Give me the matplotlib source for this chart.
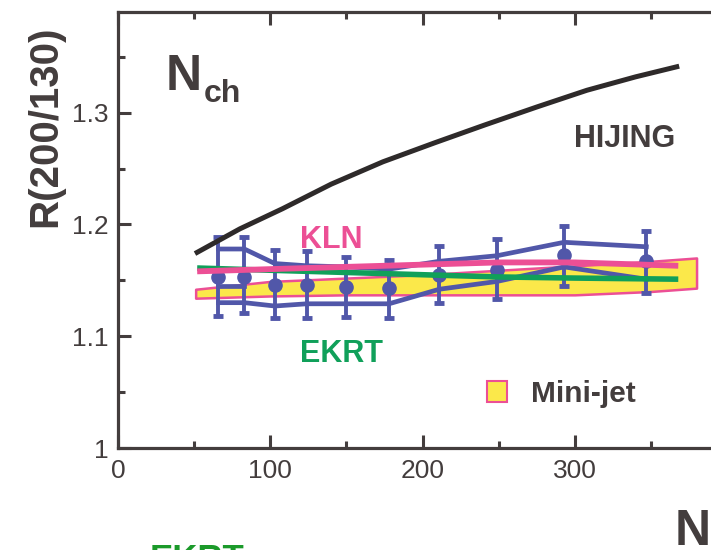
import numpy as np
import matplotlib.pyplot as plt
from matplotlib.patches import Patch
from matplotlib.ticker import MultipleLocator
from matplotlib import font_manager

# data
n_data = [66, 83, 103, 124, 150, 178, 211, 249, 293, 347]
r_data = [1.153, 1.153, 1.146, 1.146, 1.144, 1.143, 1.155, 1.159, 1.173, 1.167]
r_stat_hi = [1.189, 1.189, 1.177, 1.176, 1.171, 1.168, 1.181, 1.187, 1.199, 1.194]
r_stat_lo = [1.118, 1.121, 1.116, 1.116, 1.117, 1.116, 1.130, 1.133, 1.145, 1.139]
r_sys_hi = [1.178, 1.178, 1.165, 1.163, 1.162, 1.160, 1.167, 1.172, 1.184, 1.180]
r_sys_lo = [1.130, 1.130, 1.127, 1.129, 1.129, 1.129, 1.142, 1.149, 1.162, 1.151]
n_extra = [66, 83]
r_extra = [1.145, 1.145]

n_hijing = [52, 80, 108, 140, 174, 208, 241, 275, 308, 340, 367]
r_hijing = [1.175, 1.196, 1.214, 1.236, 1.256, 1.273, 1.289, 1.305, 1.320, 1.332, 1.341]

n_kln = [52, 100, 150, 200, 250, 300, 368]
r_kln = [1.158, 1.160, 1.162, 1.164, 1.166, 1.166, 1.163]

n_ekrt = [52, 100, 150, 200, 250, 300, 368]
r_ekrt = [1.161, 1.159, 1.157, 1.155, 1.153, 1.152, 1.151]

n_mj = [51, 100, 150, 200, 250, 300, 350, 380]
r_mj_lo = [1.134, 1.136, 1.137, 1.137, 1.137, 1.137, 1.140, 1.143]
r_mj_hi = [1.142, 1.149, 1.152, 1.155, 1.159, 1.163, 1.167, 1.170]

names = {f.name for f in font_manager.fontManager.ttflist}
font = 'Liberation Sans'
narrow = 'Liberation Sans Narrow' if 'Liberation Sans Narrow' in names else font
plt.rcParams['font.family'] = font

gray = '#433d3d'
blue = '#5157a9'
pink = '#ec4f95'
green = '#10a05a'
yellow = '#fbe84a'

fig = plt.figure(figsize=(7.11, 5.5), dpi=100)
ax = fig.add_axes([118/711, 102/550, 609/711, 436/550])

ax.fill_between(n_mj, r_mj_lo, r_mj_hi, facecolor=yellow, edgecolor=pink, linewidth=1.8, zorder=1)

yerr = [np.array(r_data) - np.array(r_stat_lo), np.array(r_stat_hi) - np.array(r_data)]
ax.errorbar(n_data, r_data, yerr=yerr, fmt='o', color=blue, ms=9.5, elinewidth=2.8,
            capsize=3.5, capthick=3.5, zorder=3)
ax.plot(n_data, r_sys_hi, color=blue, lw=3.4, zorder=2)
ax.plot(n_data, r_sys_lo, color=blue, lw=3.4, zorder=2)
ax.plot(n_extra, r_extra, color=blue, lw=3.4, zorder=2)

ax.plot(n_ekrt, r_ekrt, color=green, lw=4, solid_capstyle='butt', zorder=4)
ax.plot(n_kln, r_kln, color=pink, lw=4.2, solid_capstyle='butt', zorder=5)
ax.plot(n_hijing, r_hijing, color='#2e2a2a', lw=3.6, zorder=6)

ax.set_xlim(0, 400)
ax.set_ylim(1.0, 1.39)
ax.xaxis.set_major_locator(MultipleLocator(100))
ax.xaxis.set_minor_locator(MultipleLocator(50))
ax.yaxis.set_major_locator(MultipleLocator(0.1))
ax.yaxis.set_minor_locator(MultipleLocator(0.05))
ax.set_yticks([1.0, 1.1, 1.2, 1.3])
ax.set_yticklabels(['1', '1.1', '1.2', '1.3'])
ax.set_xticks([0, 100, 200, 300])
ax.set_xticklabels(['0', '100', '200', '300'])
ax.tick_params(which='both', direction='in', top=True, right=False, width=2.2, color=gray,
               labelcolor=gray, labelsize=19)
ax.tick_params(which='major', length=9.5)
ax.tick_params(which='minor', length=5)
ax.tick_params(axis='y', pad=7)
ax.tick_params(axis='x', pad=8)
for s in ['left', 'bottom', 'top', 'right']:
    ax.spines[s].set_linewidth(2.3)
    ax.spines[s].set_color(gray)

fig.text(45/711, 1 - 126/550, 'R(200/130)', rotation=90, ha='center', va='center',
         fontsize=29, fontweight='bold', color=gray, family=narrow)

ax.text(31, 1.3205, 'N', fontsize=36, fontweight='bold', color=gray, va='baseline', family=narrow)
ax.text(56, 1.3095, 'ch', fontsize=23, fontweight='bold', color=gray, va='baseline')
ax.text(333, 1.2695, 'HIJING', fontsize=22, fontweight='bold', color=gray, va='baseline', ha='center')
ax.text(140, 1.179, 'KLN', fontsize=22, fontweight='bold', color=pink, va='baseline', ha='center')
ax.text(147, 1.077, 'EKRT', fontsize=22, fontweight='bold', color=green, va='baseline', ha='center')

legend_elements = [Patch(facecolor=yellow, edgecolor=pink, linewidth=1.5, label='Mini-jet')]
leg = ax.legend(handles=legend_elements, loc='center left', bbox_to_anchor=(0.606, 0.124),
                frameon=False, borderpad=0, borderaxespad=0, handlelength=0.68,
                handleheight=0.68, handletextpad=0.78, prop={'size': 21.5, 'weight': 'bold'})
for t in leg.get_texts():
    t.set_color(gray)

fig.text(675/711, 5/550, 'N', fontsize=36, fontweight='bold', color=gray, va='baseline', family=narrow)
fig.text(150/711, -19/550, 'EKRT', fontsize=25, fontweight='bold', color='#1b9a2a', va='baseline')

plt.savefig('out.png', dpi=100)
